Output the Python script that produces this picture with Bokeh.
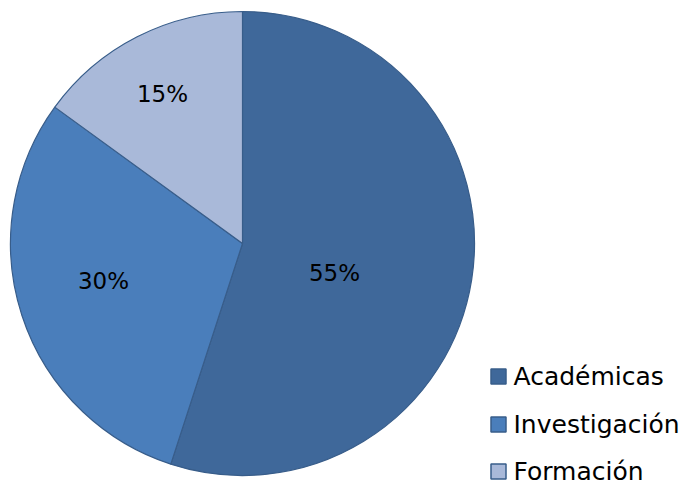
import math
from bokeh.plotting import figure
from bokeh.models import Range1d, ColumnDataSource
from bokeh.core.properties import value
from bokeh.embed import file_html
from bokeh.resources import INLINE

categories = ["Académicas", "Investigación", "Formación"]
shares = [55, 30, 15]
labels = ["55%", "30%", "15%"]
colors = ["#3F689A", "#4A7EBB", "#A9B9D9"]

W, H = 686, 486
cx, cy, R = 242, 243, 232
label_xy = [(334, 214), (103, 206), (162, 393)]

p = figure(width=W, height=H, output_backend="svg", toolbar_location=None,
           x_range=Range1d(0, W), y_range=Range1d(0, H),
           x_axis_location=None, y_axis_location=None, min_border=0)
p.grid.visible = False
p.outline_line_color = None

total = sum(shares)
start = math.pi / 2
starts, ends = [], []
for s in shares:
    ang = 2 * math.pi * s / total
    starts.append(start)
    ends.append(start - ang)
    start -= ang

src = ColumnDataSource(dict(s=starts, e=ends, c=colors))
p.wedge(x=cx, y=cy, radius=R, start_angle="s", end_angle="e", direction="clock",
        fill_color="c", line_color="#385D8A", line_width=1.2, source=src)

p.text(x=[xy[0] for xy in label_xy], y=[xy[1] for xy in label_xy], text=labels,
       text_align="center", text_baseline="middle", text_font=value("DejaVu Sans"),
       text_font_size="23px", text_color="#000000")

leg_x = 498
leg_ys = [110, 62, 15]
p.rect(x=[leg_x] * 3, y=leg_ys, width=15, height=15, width_units="screen",
       height_units="screen", fill_color=colors, line_color="#385D8A", line_width=1.5)
p.text(x=[leg_x + 15] * 3, y=leg_ys, text=categories, text_align="left",
       text_baseline="middle", text_font=value("DejaVu Sans"), text_font_size="25px",
       text_color="#000000")

open("out.html", "w").write(file_html(p, INLINE))
